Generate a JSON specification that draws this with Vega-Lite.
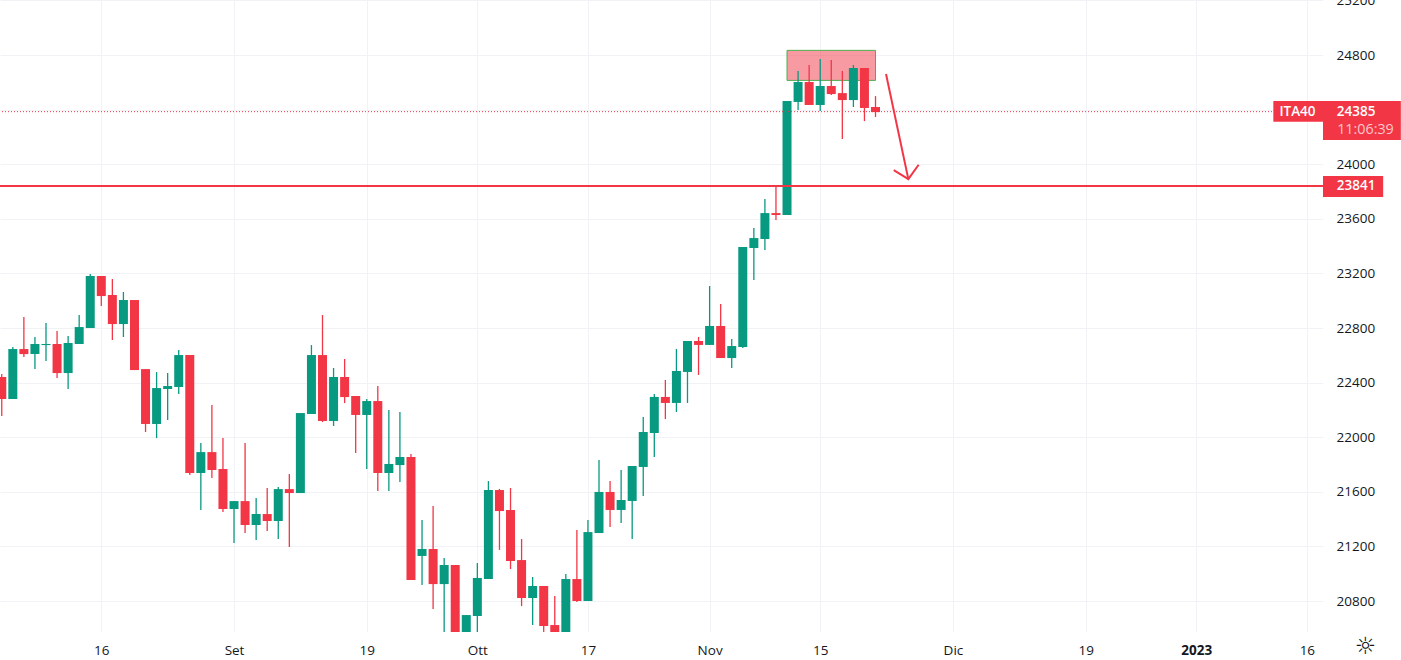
{
  "$schema": "https://vega.github.io/schema/vega-lite/v6.json",
  "width": 1323,
  "height": 632,
  "autosize": "none",
  "padding": {"left": 0, "top": 0, "right": 78, "bottom": 28},
  "background": "#ffffff",
  "config": {"view": {"stroke": null}, "font": "Open Sans"},
  "datasets": {
    "candles": [
      {"bar":0,"open":22441,"close":22280,"high":22463,"low":22155},
      {"bar":1,"open":22280,"close":22646,"high":22661,"low":22280},
      {"bar":2,"open":22646,"close":22609,"high":22880,"low":22587},
      {"bar":3,"open":22609,"close":22683,"high":22734,"low":22499},
      {"bar":4,"open":22675,"close":22683,"high":22836,"low":22558},
      {"bar":5,"open":22683,"close":22470,"high":22778,"low":22434},
      {"bar":6,"open":22470,"close":22690,"high":22741,"low":22353},
      {"bar":7,"open":22683,"close":22807,"high":22895,"low":22683},
      {"bar":8,"open":22800,"close":23181,"high":23195,"low":22800},
      {"bar":9,"open":23181,"close":23034,"high":23181,"low":22961},
      {"bar":10,"open":23042,"close":22829,"high":23159,"low":22712},
      {"bar":11,"open":22829,"close":23005,"high":23064,"low":22734},
      {"bar":12,"open":23005,"close":22492,"high":23005,"low":22492},
      {"bar":13,"open":22499,"close":22097,"high":22499,"low":22038},
      {"bar":14,"open":22097,"close":22360,"high":22477,"low":21994},
      {"bar":15,"open":22353,"close":22375,"high":22470,"low":22126},
      {"bar":16,"open":22368,"close":22602,"high":22639,"low":22316},
      {"bar":17,"open":22602,"close":21738,"high":22602,"low":21723},
      {"bar":18,"open":21738,"close":21891,"high":21957,"low":21466},
      {"bar":19,"open":21891,"close":21760,"high":22236,"low":21701},
      {"bar":20,"open":21767,"close":21474,"high":21994,"low":21452},
      {"bar":21,"open":21474,"close":21532,"high":21532,"low":21225},
      {"bar":22,"open":21532,"close":21357,"high":21957,"low":21298},
      {"bar":23,"open":21357,"close":21437,"high":21554,"low":21247},
      {"bar":24,"open":21437,"close":21386,"high":21628,"low":21313},
      {"bar":25,"open":21386,"close":21620,"high":21635,"low":21254},
      {"bar":26,"open":21620,"close":21591,"high":21730,"low":21195},
      {"bar":27,"open":21591,"close":22177,"high":22177,"low":21591},
      {"bar":28,"open":22170,"close":22602,"high":22675,"low":22170},
      {"bar":29,"open":22602,"close":22119,"high":22895,"low":22111},
      {"bar":30,"open":22119,"close":22441,"high":22507,"low":22082},
      {"bar":31,"open":22441,"close":22294,"high":22573,"low":22250},
      {"bar":32,"open":22302,"close":22163,"high":22302,"low":21884},
      {"bar":33,"open":22163,"close":22265,"high":22280,"low":21767},
      {"bar":34,"open":22265,"close":21738,"high":22375,"low":21606},
      {"bar":35,"open":21738,"close":21804,"high":22199,"low":21606},
      {"bar":36,"open":21796,"close":21855,"high":22184,"low":21672},
      {"bar":37,"open":21855,"close":20954,"high":21877,"low":20954},
      {"bar":38,"open":21130,"close":21181,"high":21393,"low":20917},
      {"bar":39,"open":21181,"close":20924,"high":21496,"low":20741},
      {"bar":40,"open":20924,"close":21064,"high":21115,"low":20550},
      {"bar":41,"open":21064,"close":20550,"high":21064,"low":20550},
      {"bar":42,"open":20550,"close":20697,"high":20697,"low":20550},
      {"bar":43,"open":20690,"close":20969,"high":21078,"low":20550},
      {"bar":44,"open":20961,"close":21613,"high":21679,"low":20961},
      {"bar":45,"open":21613,"close":21459,"high":21621,"low":21174},
      {"bar":46,"open":21467,"close":21093,"high":21628,"low":21034},
      {"bar":47,"open":21100,"close":20822,"high":21254,"low":20763},
      {"bar":48,"open":20822,"close":20910,"high":20976,"low":20624},
      {"bar":49,"open":20910,"close":20617,"high":20910,"low":20540},
      {"bar":50,"open":20624,"close":20540,"high":20837,"low":20530},
      {"bar":51,"open":20540,"close":20961,"high":20998,"low":20540},
      {"bar":52,"open":20961,"close":20800,"high":21320,"low":20793},
      {"bar":53,"open":20800,"close":21305,"high":21393,"low":20800},
      {"bar":54,"open":21298,"close":21599,"high":21833,"low":21298},
      {"bar":55,"open":21599,"close":21467,"high":21679,"low":21342},
      {"bar":56,"open":21467,"close":21540,"high":21760,"low":21371},
      {"bar":57,"open":21533,"close":21789,"high":21789,"low":21254},
      {"bar":58,"open":21782,"close":22038,"high":22148,"low":21569},
      {"bar":59,"open":22031,"close":22295,"high":22317,"low":21855},
      {"bar":60,"open":22295,"close":22251,"high":22419,"low":22133},
      {"bar":61,"open":22251,"close":22485,"high":22646,"low":22185},
      {"bar":62,"open":22478,"close":22705,"high":22705,"low":22251},
      {"bar":63,"open":22705,"close":22676,"high":22734,"low":22456},
      {"bar":64,"open":22676,"close":22815,"high":23108,"low":22676},
      {"bar":65,"open":22815,"close":22580,"high":22976,"low":22580},
      {"bar":66,"open":22580,"close":22668,"high":22720,"low":22507},
      {"bar":67,"open":22661,"close":23393,"high":23393,"low":22654},
      {"bar":68,"open":23386,"close":23459,"high":23532,"low":23152},
      {"bar":69,"open":23452,"close":23642,"high":23745,"low":23371},
      {"bar":70,"open":23642,"close":23628,"high":23840,"low":23591},
      {"bar":71,"open":23628,"close":24463,"high":24463,"low":23628},
      {"bar":72,"open":24456,"close":24602,"high":24683,"low":24397},
      {"bar":73,"open":24602,"close":24434,"high":24727,"low":24434},
      {"bar":74,"open":24434,"close":24573,"high":24771,"low":24390},
      {"bar":75,"open":24573,"close":24514,"high":24763,"low":24507},
      {"bar":76,"open":24521,"close":24470,"high":24683,"low":24184},
      {"bar":77,"open":24470,"close":24705,"high":24727,"low":24419},
      {"bar":78,"open":24705,"close":24412,"high":24705,"low":24316},
      {"bar":79,"open":24419,"close":24382,"high":24499,"low":24346}
    ],
    "arrowShaft": [
      {"bar":79.95,"price":24661,"step":0},
      {"bar":81.97,"price":23891,"step":1}
    ],
    "arrowHead": [
      {"bar":80.65,"price":23957,"step":0},
      {"bar":81.97,"price":23891,"step":1},
      {"bar":82.9,"price":23996,"step":2}
    ]
  },
  "layer": [
    {
      "data": {"values": [{"from": 71, "to": 79, "top": 24834, "bottom": 24614}]},
      "mark": {"type": "rect", "fill": "#f23645", "fillOpacity": 0.5, "stroke": "#4caf50", "strokeWidth": 1},
      "encoding": {
        "x": {"field": "from", "type": "quantitative"},
        "x2": {"field": "to"},
        "y": {"field": "top", "type": "quantitative"},
        "y2": {"field": "bottom"}
      }
    },
    {
      "data": {"name": "candles"},
      "mark": {"type": "rule", "strokeWidth": 1.3, "clip": true},
      "encoding": {
        "x": {
          "field": "bar",
          "type": "quantitative",
          "scale": {"domain": [-0.159, 119.46], "nice": false, "zero": false, "padding": 0},
          "axis": {
            "title": null,
            "orient": "bottom",
            "values": [9, 21, 33, 43, 53, 64, 74, 86, 98, 108, 118],
            "labelExpr": "{'9':'16','21':'Set','33':'19','43':'Ott','53':'17','64':'Nov','74':'15','86':'Dic','98':'19','108':'2023','118':'16'}[datum.value]",
            "labelFontSize": 13.5,
            "labelColor": "#131722",
            "labelFontWeight": {"condition": {"test": "datum.value == 108", "value": "bold"}, "value": "normal"},
            "labelPadding": 11,
            "labelFlush": false,
            "labelOverlap": false,
            "tickSize": 0,
            "domain": false,
            "grid": true,
            "gridColor": "#f1f2f5"
          }
        },
        "y": {
          "field": "low",
          "type": "quantitative",
          "scale": {"domain": [20573, 25203], "nice": false, "zero": false},
          "axis": {
            "title": null,
            "orient": "right",
            "values": [20800, 21200, 21600, 22000, 22400, 22800, 23200, 23600, 24000, 24400, 24800, 25200],
            "labelExpr": "datum.value == 24400 ? '' : format(datum.value, 'd')",
            "labelFontSize": 13.5,
            "labelColor": "#131722",
            "labelPadding": 13,
            "labelOverlap": false,
            "labelBound": false,
            "tickSize": 0,
            "domain": false,
            "grid": true,
            "gridColor": "#f1f2f5"
          }
        },
        "y2": {"field": "high"},
        "color": {"condition": {"test": "datum.close >= datum.open", "value": "#089981"}, "value": "#f23645"}
      }
    },
    {
      "data": {"name": "candles"},
      "mark": {"type": "bar", "width": 9, "orient": "vertical", "clip": true},
      "encoding": {
        "x": {"field": "bar", "type": "quantitative"},
        "y": {"field": "open", "type": "quantitative"},
        "y2": {"field": "close"},
        "color": {"condition": {"test": "datum.close >= datum.open", "value": "#089981"}, "value": "#f23645"}
      }
    },
    {
      "data": {"values": [{"price": 24385}]},
      "mark": {"type": "rule", "stroke": "#f23645", "strokeWidth": 1, "strokeDash": [1, 2]},
      "encoding": {"y": {"field": "price", "type": "quantitative"}}
    },
    {
      "data": {"values": [{"price": 23841}]},
      "mark": {"type": "rule", "stroke": "#f23645", "strokeWidth": 2},
      "encoding": {"y": {"field": "price", "type": "quantitative"}}
    },
    {
      "data": {"name": "arrowShaft"},
      "mark": {"type": "line", "stroke": "#f23645", "strokeWidth": 2},
      "encoding": {
        "x": {"field": "bar", "type": "quantitative"},
        "y": {"field": "price", "type": "quantitative"},
        "order": {"field": "step"}
      }
    },
    {
      "data": {"name": "arrowHead"},
      "mark": {"type": "line", "stroke": "#f23645", "strokeWidth": 2},
      "encoding": {
        "x": {"field": "bar", "type": "quantitative"},
        "y": {"field": "price", "type": "quantitative"},
        "order": {"field": "step"}
      }
    },
    {
      "data": {"values": [
        {"from": 114.97, "to": 119.46, "top": 24463, "bottom": 24311},
        {"from": 119.46, "to": 126.5, "top": 24463, "bottom": 24177},
        {"from": 119.46, "to": 124.9, "top": 23913, "bottom": 23759}
      ]},
      "mark": {"type": "rect", "fill": "#f23645", "clip": false},
      "encoding": {
        "x": {"field": "from", "type": "quantitative"},
        "x2": {"field": "to"},
        "y": {"field": "top", "type": "quantitative"},
        "y2": {"field": "bottom"}
      }
    },
    {
      "data": {"values": [
        {"bar": 117.15, "price": 24385, "label": "ITA40"},
        {"bar": 122.45, "price": 24385, "label": "24385"},
        {"bar": 122.45, "price": 23841, "label": "23841"}
      ]},
      "mark": {"type": "text", "color": "#ffffff", "fontSize": 13.5, "fontWeight": 600, "clip": false},
      "encoding": {
        "x": {"field": "bar", "type": "quantitative"},
        "y": {"field": "price", "type": "quantitative"},
        "text": {"field": "label"}
      }
    },
    {
      "data": {"values": [{"bar": 123.3, "price": 24253, "label": "11:06:39"}]},
      "mark": {"type": "text", "color": "#fbc7cc", "fontSize": 14.3, "clip": false},
      "encoding": {
        "x": {"field": "bar", "type": "quantitative"},
        "y": {"field": "price", "type": "quantitative"},
        "text": {"field": "label"}
      }
    },
    {
      "data": {"values": [{"bar": 123.3, "price": 20460, "label": "☼"}]},
      "mark": {"type": "text", "color": "#131722", "font": "DejaVu Sans", "fontSize": 24, "clip": false},
      "encoding": {
        "x": {"field": "bar", "type": "quantitative"},
        "y": {"field": "price", "type": "quantitative"},
        "text": {"field": "label"}
      }
    }
  ]
}
